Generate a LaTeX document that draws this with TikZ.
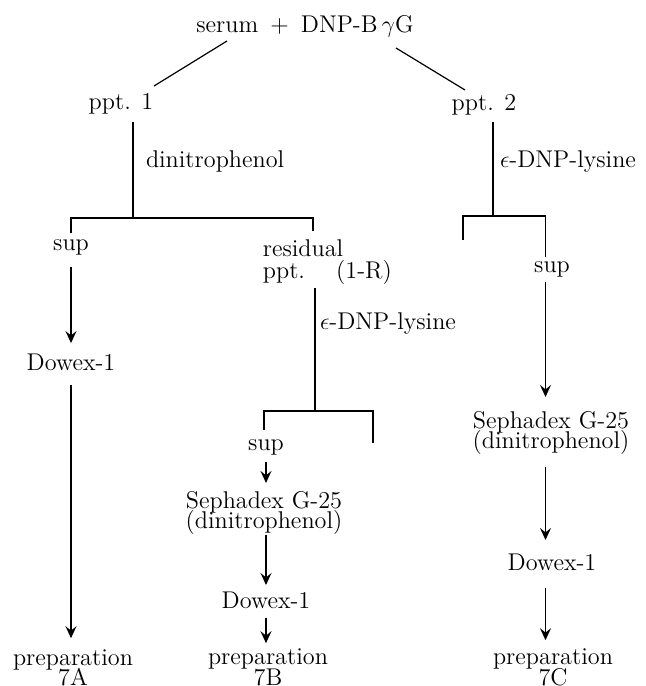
\documentclass[tikz,border=0pt]{standalone}
\usetikzlibrary{arrows.meta,calc}
\begin{document}
\begin{tikzpicture}[x=0.5pt,y=-0.5pt, line width=0.6pt,
  lbl/.style={inner sep=0pt, outer sep=0pt, anchor=base, font=\fontsize{12.1}{14}\selectfont},
  arr/.style={-{Stealth[length=6pt,width=5.5pt,inset=2.2pt]}},
  bar/.style={line width=0.8pt}]
\useasboundingbox (0,0) rectangle (645,686);

% column coordinates
\coordinate (cL) at (71,0);
\coordinate (cM) at (266,0);
\coordinate (cR) at (545.5,0);

% nodes
\node[lbl] (top) at (305,32) {serum\enspace+\enspace DNP-B\,$\gamma$G};
\node[lbl] (ppt1) at (121,109) {ppt. 1};
\node[lbl] (ppt2) at (484,110) {ppt. 2};
\node[lbl,anchor=base west] (dnp1) at (146,167) {dinitrophenol};
\node[lbl,anchor=base west] (eps2) at (500,167) {$\epsilon$-DNP-lysine};
\node[lbl] (sup1) at (71,250) {sup};
\node[lbl] (resid) at (303,256) {residual};
\node[lbl] (resppt) at (284,278) {ppt.};
\node[lbl] (oneR) at (364,278) {(1-R)};
\node[lbl,anchor=base west] (eps1) at (320,329) {$\epsilon$-DNP-lysine};
\node[lbl] (dowA) at (71,370) {Dowex-1};
\node[lbl] (prepA) at (73,665) {preparation};
\node[lbl] (numA) at (73,685) {7A};
\node[lbl] (sup2) at (266,450) {sup};
\node[lbl] (sephB) at (264,508) {Sephadex G-25};
\node[lbl] (dnpB) at (264,528) {(dinitrophenol)};
\node[lbl] (dowB) at (266,608) {Dowex-1};
\node[lbl] (prepB) at (268,664) {preparation};
\node[lbl] (numB) at (268,685) {7B};
\node[lbl] (sup3) at (552,272) {sup};
\node[lbl] (sephC) at (551,428) {Sephadex G-25};
\node[lbl] (dnpC) at (551,448) {(dinitrophenol)};
\node[lbl] (dowC) at (552,570) {Dowex-1};
\node[lbl] (prepC) at (553,664) {preparation};
\node[lbl] (numC) at (553,685) {7C};

% diagonals from the top
\draw ($(top.base)+(-78,9)$) -- ($(ppt1.base)+(33,-23)$);
\draw ($(top.base)+(91,16)$) -- ($(ppt2.base)+(-19,-20)$);

% bar 1 (dinitrophenol)
\coordinate (j1) at (133,218);
\coordinate (j1l) at (71,218);
\coordinate (j1r) at (313,218);
\draw[shorten <=4.15pt] (ppt1.south -| j1) -- (j1);
\draw[bar] (j1l) ++(0,15) -- (j1l) -- (j1r) -- ++(0,13);

% bar 2 (residual ppt.)
\coordinate (j2) at (315,411);
\coordinate (j2l) at (264,411);
\coordinate (j2r) at (373,411);
\draw[shorten <=2.65pt] (resppt.south -| j2) -- (j2);
\draw[bar] (j2l) ++(0,19) -- (j2l) -- (j2r) -- ++(0,32);

% bar 3 (ppt. 2)
\coordinate (j3) at (493,216);
\coordinate (j3l) at (463,216);
\coordinate (j3r) at (545.5,216);
\draw[shorten <=3.65pt] (ppt2.south -| j3) -- (j3);
\draw[bar] (j3l) ++(0,24) -- (j3l) -- (j3r) -- ++(0,41);

% arrows
\draw[arr, shorten <=6.2pt, shorten >=5.2pt] (sup1.south -| cL) -- (dowA.north -| cL);
\draw[arr, shorten <=7.5pt, shorten >=5.5pt] (dowA.south -| cL) -- (prepA.north -| cL);
\draw[arr, shorten <=3.65pt, shorten >=4pt] (sup2.south -| cM) -- (sephB.north -| cM);
\draw[arr, shorten <=0.5pt, shorten >=3.25pt] (dnpB.south -| cM) -- (dowB.north -| cM);
\draw[arr, shorten <=5pt, shorten >=2.5pt] (dowB.south -| cM) -- (prepB.north -| cM);
\draw[arr, shorten <=2.65pt, shorten >=7pt] (sup3.south -| cR) -- (sephC.north -| cR);
\draw[arr, shorten <=6.5pt, shorten >=6.75pt] (dnpC.south -| cR) -- (dowC.north -| cR);
\draw[arr, shorten <=9pt, shorten >=4pt] (dowC.south -| cR) -- (prepC.north -| cR);
\end{tikzpicture}
\end{document}
